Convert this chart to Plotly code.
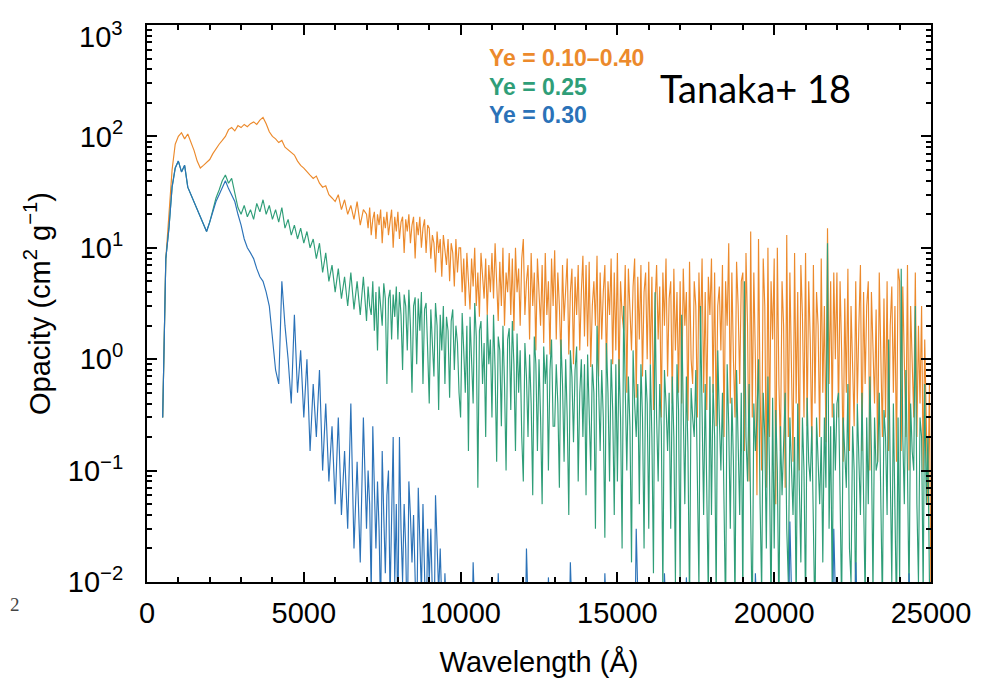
import plotly.graph_objects as go

# Wavelength grid (Angstrom): 100 A steps up to 6900, 50 A steps from 7000 on
wavelength = list(range(500, 7000, 100)) + list(range(7000, 25001, 50))

# Ye = 0.10-0.40 (orange)
opacity_mix = [
    0.3, 8, 20, 50, 85,
    100, 108, 95, 105, 90, 75, 60, 52, 55, 58,
    62, 70, 78, 85, 92, 100, 115, 120, 112, 125,
    120, 128, 122, 130, 135, 128, 140, 148, 130, 110,
    100, 95, 88, 92, 80, 76, 72, 68, 60, 55,
    52, 48, 45, 42, 44, 38, 35, 36, 30, 28,
    26, 30, 22, 27, 20, 24, 18, 26, 16, 22,
    # 7000 - 24950, 50 A steps
    20, 15, 23, 13, 18, 21, 12, 20, 16, 22, 11, 19, 15, 21, 13, 17, 22, 10, 19, 14,
    21, 12, 17, 19, 9, 18, 14, 20, 11, 16, 19, 8, 17, 13, 19, 10, 15, 18, 9, 16,
    15, 8, 13, 11, 6, 14, 9, 12, 5.5, 13, 10, 7, 12, 5, 11, 9, 4.5, 12, 6, 10,
    10, 4, 8, 3, 9, 5, 2.8, 8, 4.5, 10, 3, 6, 2.4, 9, 5, 3.5, 8, 2.5, 7, 4,
    9, 3.5, 11, 5, 2.2, 7.5, 3, 10, 2, 6, 4, 9, 2.5, 8, 1.8, 10, 4, 6.5, 2, 8,
    12, 2.5, 5, 7, 1.5, 9, 3, 6, 1.2, 8, 4, 2, 7, 1.4, 9, 2.5, 5, 1.1, 8, 3,
    9.5, 1.5, 6, 3, 1, 7, 2.2, 5, 8, 1.1, 4, 6.5, 0.9, 5.5, 2.5, 7, 1.2, 4, 8.5, 1.6,
    7, 1.3, 7.5, 0.85, 3, 5, 2, 8.5, 0.7, 6, 1.5, 4, 7, 0.8, 5, 2.5, 8, 0.9, 6, 1.2,
    9, 0.6, 5, 2.5, 1.8, 7, 0.5, 6.5, 3, 1.2, 4.5, 8, 0.45, 5.5, 1.5, 7, 0.7, 4, 6, 1,
    7.5, 0.9, 5.5, 0.35, 3, 7, 1.5, 4.5, 0.3, 6, 2, 8, 0.7, 3.5, 5, 0.4, 6.5, 1.2, 4, 0.5,
    5, 0.4, 6.5, 2, 4, 0.28, 7.5, 1, 0.6, 5, 3, 0.3, 6, 1.5, 8, 0.5, 4, 0.35, 5.5, 2.5,
    8, 0.5, 6, 0.25, 3, 4.5, 1.2, 7, 0.2, 5, 2, 11, 0.4, 6, 1, 0.3, 7.5, 3, 0.6, 5,
    6, 0.15, 9, 2, 0.08, 14, 0.3, 6, 1, 0.06, 12, 0.5, 0.1, 8, 3, 0.07, 10, 0.2, 5, 1.5,
    8, 0.05, 10, 0.6, 0.15, 5, 2, 0.07, 13, 0.2, 6, 1, 0.12, 9, 0.4, 4, 0.1, 7, 2.5, 0.3,
    9, 0.25, 5, 1.5, 0.15, 7, 0.4, 4, 2, 0.2, 8, 0.5, 3, 0.18, 15, 0.6, 5, 0.3, 6, 1,
    6, 0.3, 5, 1.2, 0.12, 3.5, 0.5, 6.5, 0.15, 3, 1, 0.25, 5, 0.4, 2, 7, 0.15, 4, 0.6, 3,
    5, 0.1, 4, 0.9, 0.4, 2.8, 0.12, 6, 1.5, 0.2, 3.5, 0.3, 5, 0.15, 2, 4.5, 0.5, 3, 0.12, 6.5,
    5, 0.15, 4.5, 1, 0.2, 7, 0.1, 3, 0.8, 0.3, 6, 0.2, 2, 0.4, 3, 0.1, 1.5, 0.3, 0.05, 0.6,
    0.005,
]

# Ye = 0.25 (green)
opacity_025 = [
    0.3, 8, 15, 35, 52,
    60, 48, 55, 35, 30, 25, 22, 19, 16, 14,
    17, 22, 28, 33, 40, 45, 38, 42, 30, 23,
    20, 24, 19, 22, 18, 25, 21, 27, 20, 24,
    18, 22, 17, 23, 15, 18, 13, 16, 12, 15,
    11, 14, 10, 12, 8, 11, 6, 9, 5, 7,
    4, 6.5, 3.5, 5.5, 3, 6, 2.8, 5, 2.5, 5.5,
    # 7000 - 24950, 50 A steps
    2.2, 4.5, 3, 2.5, 5, 1.8, 4, 1.2, 4.5, 2.8, 2, 4.8, 3.5, 0.6, 3.5, 4.2, 1.5, 3.8, 2.4, 4.5,
    1.5, 4, 2.5, 0.8, 3.8, 3, 1.2, 4.2, 2, 0.5, 3, 3.6, 0.9, 3.5, 1.8, 4, 0.6, 2.8, 3.2, 1.2,
    0.4, 2.8, 1.5, 0.7, 3.2, 2, 0.35, 2.5, 1.2, 3, 0.6, 2.4, 1.8, 0.45, 2.2, 2.8, 0.8, 2, 1.4, 0.5,
    0.3, 2.6, 1.2, 0.5, 2, 0.15, 2.4, 1, 0.4, 3.2, 1.6, 0.07, 1.8, 2.2, 0.6, 1.4, 0.2, 2.5, 0.9, 1.5,
    0.3, 2.5, 0.8, 0.12, 1.6, 1.2, 0.25, 2, 0.6, 0.1, 1.5, 1.9, 0.35, 2.2, 0.9, 0.15, 1.7, 0.5, 1.2, 0.2,
    0.08, 1.4, 0.7, 0.2, 1.1, 0.4, 0.06, 1.6, 0.9, 0.15, 1, 0.3, 0.05, 1.3, 0.6, 1.1, 0.1, 0.8, 1.5, 0.25,
    0.25, 0.9, 0.4, 0.07, 1.5, 0.6, 0.12, 1, 0.3, 0.04, 1.2, 0.7, 0.18, 0.8, 1.3, 0.08, 0.5, 1, 0.2, 0.9,
    0.06, 1.1, 0.4, 0.1, 0.9, 0.5, 0.03, 2, 0.6, 0.15, 0.8, 0.3, 0.025, 1.4, 0.5, 0.08, 1, 0.35, 0.04, 0.9,
    0.08, 1, 0.3, 0.02, 3, 0.5, 0.1, 0.7, 0.25, 0.015, 1.2, 0.4, 0.2, 0.6, 0.05, 0.9, 0.3, 0.02, 0.8, 0.4,
    0.03, 0.9, 0.2, 0.012, 4, 0.3, 0.08, 0.6, 0.25, 0.008, 0.8, 0.4, 0.15, 0.5, 0.03, 0.7, 0.2, 0.01, 0.9, 0.35,
    0.01, 2.5, 0.3, 0.05, 0.7, 0.15, 0.006, 0.55, 0.3, 0.2, 0.8, 0.05, 0.009, 3, 0.25, 0.04, 0.6, 0.1, 0.007, 0.7,
    0.04, 0.6, 0.2, 0.007, 1.2, 0.3, 0.1, 0.5, 0.05, 0.005, 0.9, 0.25, 0.03, 0.45, 0.12, 0.006, 0.8, 0.2, 0.04, 0.5,
    0.006, 5, 0.2, 0.08, 0.6, 0.04, 0.004, 0.4, 0.15, 0.3, 1, 0.05, 0.008, 0.5, 0.2, 0.02, 0.7, 0.1, 0.005, 0.45,
    0.02, 0.35, 0.1, 0.005, 0.25, 0.06, 0.15, 0.5, 0.03, 0.01, 0.3, 0.12, 0.04, 0.2, 0.006, 0.4, 0.08, 0.015, 0.3, 0.1,
    0.006, 0.45, 0.12, 0.08, 0.25, 0.02, 0.004, 0.3, 0.1, 0.05, 0.2, 0.015, 0.3, 0.07, 11, 0.03, 0.25, 0.008, 0.4, 0.1,
    0.4, 0.5, 0.06, 0.006, 0.3, 0.12, 0.07, 0.6, 0.02, 0.01, 0.25, 0.1, 0.005, 0.4, 0.15, 0.04, 0.5, 0.08, 0.007, 0.3,
    0.05, 0.7, 0.15, 0.008, 0.3, 0.1, 0.12, 0.5, 0.03, 0.006, 0.35, 0.2, 0.04, 1.5, 0.1, 0.01, 0.4, 0.08, 0.005, 0.3,
    0.01, 6.5, 0.2, 0.05, 0.8, 0.1, 0.007, 0.4, 0.15, 0.1, 3, 0.05, 0.01, 0.3, 0.2, 0.008, 0.6, 0.05, 0.2, 0.01,
    0.004,
]

# Ye = 0.30 (blue); values below 1e-2 fall under the axis floor
opacity_030 = [
    0.3, 8, 15, 35, 52,
    60, 48, 55, 35, 30, 25, 22, 19, 16, 14,
    17, 21, 26, 30, 35, 40, 34, 30, 26, 20,
    16, 12, 10, 9, 8, 6.5, 5.5, 5, 4, 3,
    1.5, 0.8, 0.6, 5, 2, 1, 0.4, 2.5, 0.5, 1.2,
    0.3, 1, 0.15, 0.6, 0.2, 0.8, 0.1, 0.4, 0.08, 0.25,
    0.05, 0.3, 0.04, 0.15, 0.03, 0.4, 0.02, 0.12, 0.015, 0.3,
    # 7000 - 24950, 50 A steps
    0.03, 0.1, 0.05, 0.008, 0.25, 0.06, 0.02, 0.08, 0.03, 0.005, 0.15, 0.04, 0.012, 0.06, 0.1, 0.007, 0.04, 0.2, 0.01, 0.05,
    0.004, 0.2, 0.03, 0.01, 0.05, 0.02, 0.003, 0.08, 0.04, 0.015, 0.04, 0.006, 0.003, 0.07, 0.02, 0.008, 0.05, 0.012, 0.003, 0.03,
    0.01, 0.03, 0.006, 0.002, 0.06, 0.015, 0.008, 0.02, 0.004, 0.002, 0.012, 0.003, 0.002, 0.004, 0.002, 0.009, 0.002, 0.002, 0.003, 0.002,
    0.002, 0.002, 0.002, 0.002, 0.002, 0.002, 0.002, 0.002, 0.015, 0.002, 0.002, 0.002, 0.002, 0.002, 0.002, 0.002, 0.002, 0.002, 0.002, 0.002,
    0.002, 0.002, 0.002, 0.002, 0.012, 0.002, 0.002, 0.002, 0.002, 0.002, 0.002, 0.002, 0.002, 0.002, 0.002, 0.002, 0.002, 0.002, 0.002, 0.002,
    0.002, 0.002, 0.02, 0.002, 0.002, 0.002, 0.002, 0.002, 0.002, 0.002, 0.002, 0.002, 0.002, 0.002, 0.002, 0.002, 0.011, 0.002, 0.002, 0.002,
    0.002, 0.002, 0.002, 0.002, 0.002, 0.002, 0.002, 0.002, 0.002, 0.002, 0.015, 0.002, 0.002, 0.002, 0.002, 0.002, 0.002, 0.002, 0.002, 0.002,
    0.002, 0.002, 0.002, 0.002, 0.002, 0.002, 0.002, 0.002, 0.002, 0.002, 0.002, 0.002, 0.012, 0.002, 0.002, 0.002, 0.002, 0.002, 0.002, 0.002,
    0.002, 0.002, 0.002, 0.002, 0.002, 0.002, 0.002, 0.002, 0.002, 0.002, 0.002, 0.002, 0.03, 0.002, 0.002, 0.002, 0.002, 0.002, 0.002, 0.002,
    0.002, 0.002, 0.002, 0.002, 0.002, 0.002, 0.002, 0.002, 0.002, 0.002, 0.012, 0.002, 0.002, 0.002, 0.002, 0.002, 0.002, 0.002, 0.002, 0.002,
    0.002, 0.002, 0.002, 0.002, 0.011, 0.002, 0.002, 0.002, 0.002, 0.002, 0.002, 0.002, 0.002, 0.002, 0.002, 0.002, 0.002, 0.002, 0.002, 0.002,
    0.002, 0.002, 0.002, 0.002, 0.002, 0.002, 0.002, 0.002, 0.002, 0.002, 0.002, 0.002, 0.002, 0.002, 0.002, 0.002, 0.002, 0.002, 0.002, 0.002,
    0.002, 0.002, 0.002, 0.002, 0.002, 0.002, 0.002, 0.002, 0.012, 0.002, 0.002, 0.002, 0.002, 0.002, 0.002, 0.002, 0.002, 0.002, 0.002, 0.002,
    0.002, 0.002, 0.002, 0.002, 0.002, 0.002, 0.002, 0.002, 0.002, 0.002, 0.035, 0.002, 0.002, 0.002, 0.002, 0.002, 0.002, 0.002, 0.002, 0.002,
    0.002, 0.002, 0.002, 0.002, 0.002, 0.002, 0.002, 0.002, 0.002, 0.002, 0.002, 0.002, 0.002, 0.002, 0.002, 0.002, 0.002, 0.002, 0.03, 0.002,
    0.002, 0.002, 0.002, 0.002, 0.002, 0.002, 0.002, 0.002, 0.002, 0.002, 0.002, 0.002, 0.015, 0.002, 0.002, 0.002, 0.002, 0.002, 0.002, 0.002,
    0.002, 0.002, 0.002, 0.002, 0.002, 0.002, 0.002, 0.002, 0.002, 0.002, 0.002, 0.002, 0.002, 0.002, 0.002, 0.002, 0.002, 0.002, 0.002, 0.002,
    0.002, 0.002, 0.002, 0.002, 0.002, 0.002, 0.012, 0.002, 0.002, 0.002, 0.002, 0.002, 0.002, 0.002, 0.002, 0.002, 0.002, 0.002, 0.002, 0.002,
    0.002,
]

series_names = ["Ye = 0.10–0.40", "Ye = 0.25", "Ye = 0.30"]
series_values = [opacity_mix, opacity_025, opacity_030]
series_colors = ["#EC8A2C", "#2F9E78", "#2B72B8"]

# the top label (10^3) is drawn as an annotation, nudged down like in the reference
y_tickvals = [0.01, 0.1, 1, 10, 100, 1000]
y_ticktext = ["10<sup>−2</sup>", "10<sup>−1</sup>", "10<sup>0</sup>",
              "10<sup>1</sup>", "10<sup>2</sup>", ""]
y_top_label = "10<sup>3</sup>"
y_minor_vals = [m * d for d in [0.01, 0.1, 1, 10, 100] for m in range(2, 10)]
x_tickvals = [0, 5000, 10000, 15000, 20000, 25000]
x_ticktext = ["0", "5000", "10000", "15000", "20000", "25000"]

fig = go.Figure()
for name, vals, col in zip(series_names, series_values, series_colors):
    fig.add_trace(go.Scatter(x=wavelength, y=vals, mode="lines", name=name,
                             line=dict(color=col, width=1.15), showlegend=False))

font_main = "Arial"
axis_common = dict(showline=True, linecolor="black", linewidth=2, mirror="allticks",
                   ticks="inside", ticklen=10, tickwidth=2, tickcolor="black",
                   showgrid=False, zeroline=False, automargin=False,
                   ticklabeloverflow="allow",
                   tickfont=dict(family=font_main, size=29, color="black"))

fig.update_xaxes(range=[0, 25000], tickvals=x_tickvals, ticktext=x_ticktext,
                 minor=dict(ticks="inside", ticklen=5, tickwidth=1.5, tickcolor="black", dtick=1000),
                 title=dict(text="Wavelength (Å)", font=dict(family=font_main, size=29, color="black"), standoff=24),
                 ticklabelstandoff=4,
                 **axis_common)
fig.update_yaxes(type="log", range=[-2, 3], tickvals=y_tickvals, ticktext=y_ticktext,
                 minor=dict(ticks="inside", ticklen=5, tickwidth=1.5, tickcolor="black", tickvals=y_minor_vals),
                 title=dict(text="Opacity (cm<sup>2</sup> g<sup>−1</sup>)", font=dict(family=font_main, size=29, color="black"), standoff=9),
                 ticklabelstandoff=16,
                 **axis_common)

fig.add_annotation(xref="paper", yref="paper", x=-0.028, y=0.982, text=y_top_label,
                   showarrow=False, xanchor="right", yanchor="middle",
                   font=dict(family=font_main, size=29, color="black"))

label_y = [0.94, 0.889, 0.838]
for name, col, yy in zip(series_names, series_colors, label_y):
    fig.add_annotation(xref="paper", yref="paper", x=0.434, y=yy, text=f"<b>{name}</b>",
                       showarrow=False, xanchor="left", yanchor="middle",
                       font=dict(family=font_main, size=23, color=col))

fig.add_annotation(xref="paper", yref="paper", x=0.652, y=0.886, text="Tanaka+ 18",
                   showarrow=False, xanchor="left", yanchor="middle",
                   font=dict(family="Lato", size=38, color="black"))
fig.add_annotation(xref="paper", yref="paper", x=-0.168, y=-0.04, text="2",
                   showarrow=False, xanchor="center", yanchor="middle",
                   font=dict(family="Liberation Serif", size=19, color="#444"))

# page body adds an 8 px offset, so the figure is 16 px smaller than the window
fig.update_layout(width=976, height=671, margin=dict(l=139, r=53, t=17, b=97),
                  paper_bgcolor="white", plot_bgcolor="white")

fig.write_html("out.html")
